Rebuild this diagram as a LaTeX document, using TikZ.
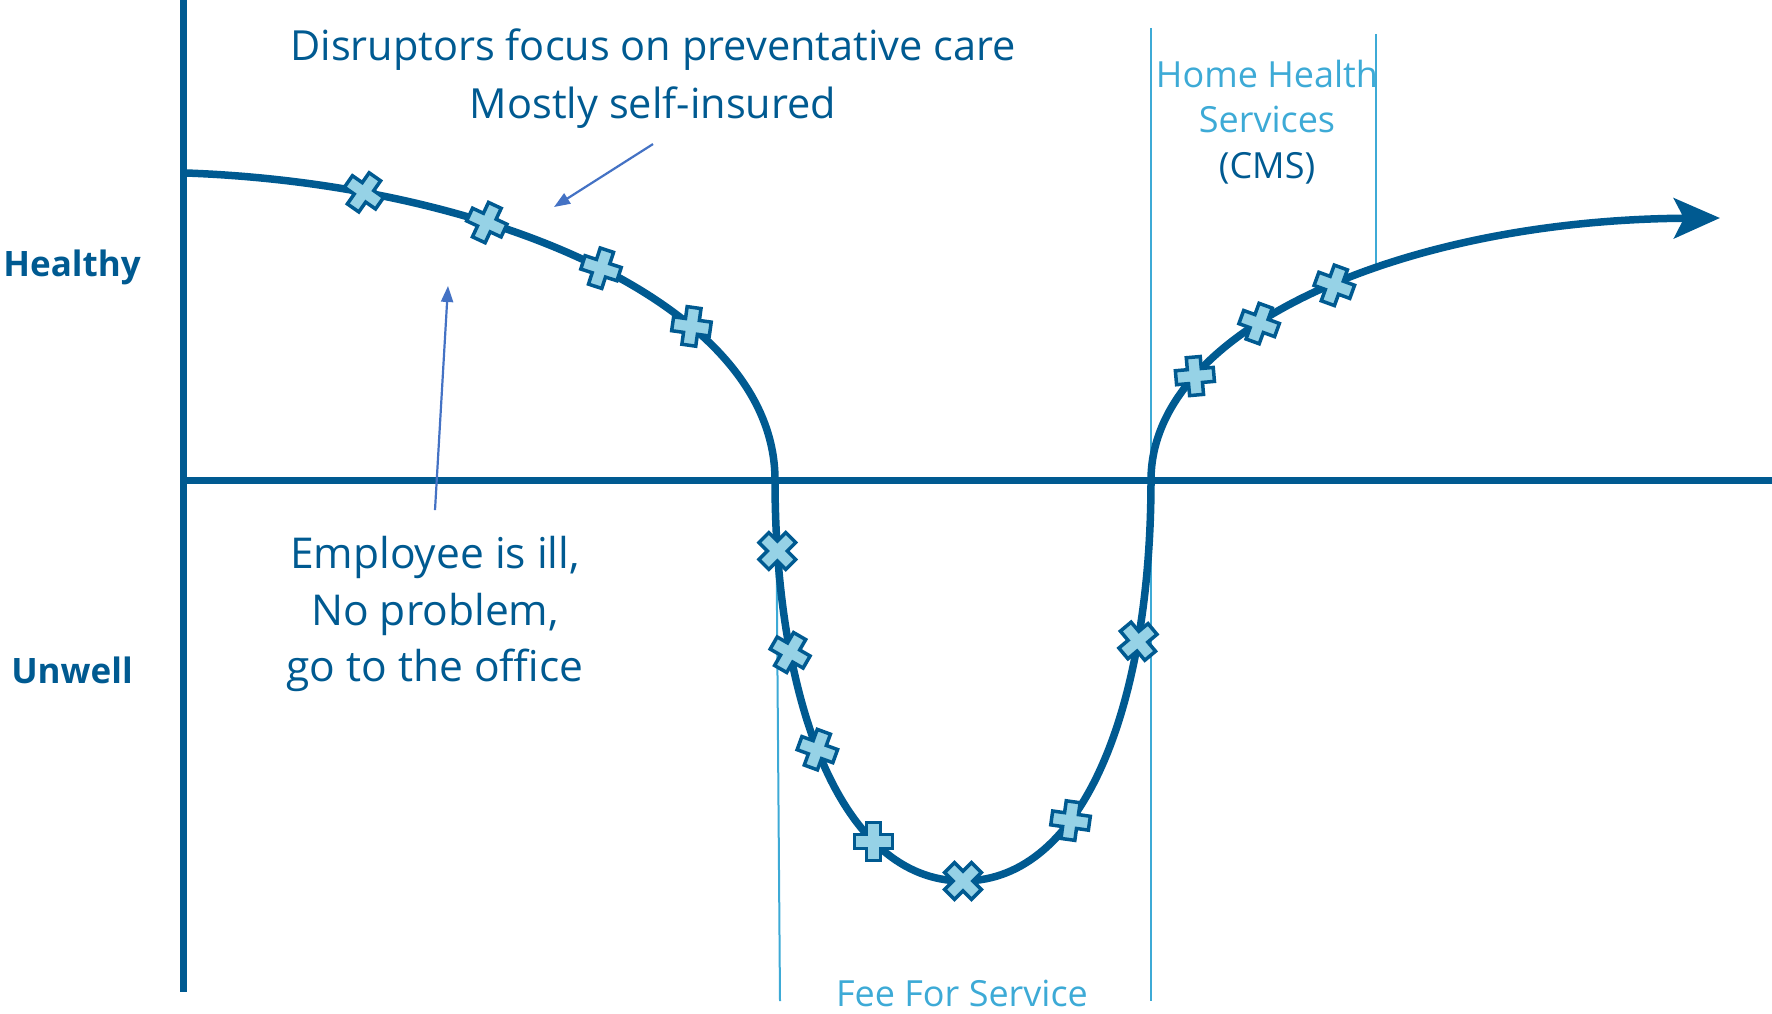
\documentclass[tikz,border=0pt]{standalone}
\usepackage{fontspec}
\setmainfont{Open Sans}
\usetikzlibrary{arrows.meta}
\definecolor{dkblue}{HTML}{005A91}
\definecolor{ltblue}{HTML}{3DAAD6}
\definecolor{xfill}{HTML}{96D2E6}
\definecolor{annot}{HTML}{4472C4}
\tikzset{
  medcross/.pic={\draw[line width=3.5pt, draw=dkblue, fill=xfill, line join=miter]
     (7,19) -- (7,7) -- (19,7) -- (19,-7) -- (7,-7) -- (7,-19) -- (-7,-19) -- (-7,-7)
     -- (-19,-7) -- (-19,7) -- (-7,7) -- (-7,19) -- cycle;},
  axisline/.style={draw=dkblue, line width=7pt},
  curveline/.style={draw=dkblue, line width=7.5pt},
  thinline/.style={draw=ltblue, line width=2pt},
  annotarrow/.style={draw=annot, line width=2.2pt, -{Triangle[length=16pt,width=12pt]}},
  bigtxt/.style={font=\fontsize{41.5}{58}\selectfont, align=center, inner sep=0pt, text=dkblue},
  midtxt/.style={font=\fontsize{36}{45.5}\selectfont, align=center, inner sep=0pt},
  sidetxt/.style={font=\fontsize{35}{40}\selectfont\bfseries, inner sep=0pt, text=dkblue},
}
\begin{document}
\begin{tikzpicture}[x=1pt, y=-1pt]
\useasboundingbox (0,0) rectangle (1772,1014);
% thin section lines
\draw[thinline] (776,482) -- (780,1001);
\draw[thinline] (1151,28) -- (1151,1001);
\draw[thinline] (1376,34) -- (1376,266);
% axes
\draw[axisline] (183,0) -- (183,992);
\draw[axisline] (180,480) -- (1772,480);
% curve positions
\path (186,173) .. controls (490,184) and (775,305) .. (775,480)
   coordinate[pos=0.2] (c1) coordinate[pos=0.35] (c2) coordinate[pos=0.51] (c3) coordinate[pos=0.67] (c4);
\path (775,480) .. controls (775,700) and (840,881) .. (963,881)
   coordinate[pos=0.11] (c5) coordinate[pos=0.28] (c6) coordinate[pos=0.47] (c7) coordinate[pos=0.72] (c8) coordinate[pos=1] (c9);
\path (963,881) .. controls (1086,881) and (1151,700) .. (1151,480)
   coordinate[pos=0.35] (c10) coordinate[pos=0.74] (c11);
\path (1151,480) .. controls (1151,330) and (1400,220) .. (1720,218)
   coordinate[pos=0.25] (c12) coordinate[pos=0.4] (c13) coordinate[pos=0.53] (c14);
% curve
\draw[curveline, -{Stealth[length=46pt,width=40pt,inset=10pt]}]
   (186,173) .. controls (490,184) and (775,305) .. (775,480)
   .. controls (775,700) and (840,881) .. (963,881)
   .. controls (1086,881) and (1151,700) .. (1151,480)
   .. controls (1151,330) and (1400,220) .. (1720,218);
% crosses
\pic[rotate=-35] at (c1) {medcross};
\pic[rotate=-25] at (c2) {medcross};
\pic[rotate=-18] at (c3) {medcross};
\pic[rotate=-8] at (c4) {medcross};
\pic[rotate=45] at (c5) {medcross};
\pic[rotate=-30] at (c6) {medcross};
\pic[rotate=-20] at (c7) {medcross};
\pic[rotate=0] at (c8) {medcross};
\pic[rotate=45] at (c9) {medcross};
\pic[rotate=-8] at (c10) {medcross};
\pic[rotate=40] at (c11) {medcross};
\pic[rotate=5] at (c12) {medcross};
\pic[rotate=-20] at (c13) {medcross};
\pic[rotate=-20] at (c14) {medcross};
% texts
\node[bigtxt] (disr) at (653,79) {Disruptors focus on preventative care\\Mostly self-insured};
\node[bigtxt, font=\fontsize{42.5}{56.5}\selectfont] (empl) at (435,614) {Employee is ill,\\No problem,\\go to the office};
\node[midtxt, text=dkblue] (hhs) at (1267,122) {\textcolor{ltblue}{Home Health}\\\textcolor{ltblue}{Services}\\(CMS)};
\node[midtxt, text=ltblue, anchor=base] (ffs) at (962,1006) {Fee For Service};
\node[sidetxt, anchor=base] (healthy) at (72,276) {Healthy};
\node[sidetxt, anchor=base] (unwell) at (72,683) {Unwell};
% annotation arrows
\coordinate (a1e) at (554,207);
\coordinate (a2e) at (448,286);
\draw[annotarrow] ([yshift=-15pt]disr.south) -- (a1e);
\draw[annotarrow] ([yshift=26pt]empl.north) -- (a2e);
\end{tikzpicture}
\end{document}
